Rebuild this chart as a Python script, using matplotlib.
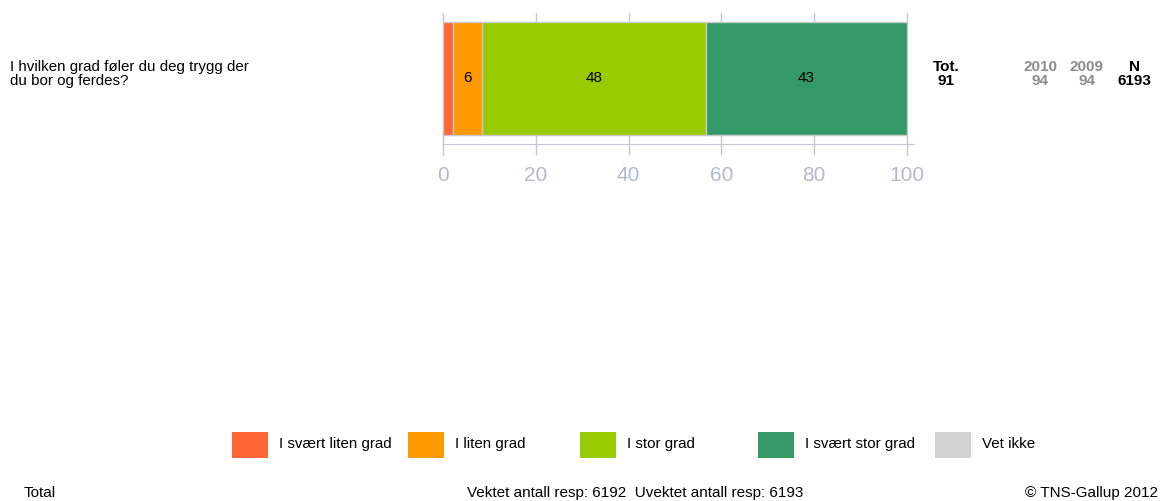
import numpy as np
import matplotlib.pyplot as plt
from matplotlib.patches import Rectangle

plt.rcParams['font.family'] = ['Liberation Sans', 'DejaVu Sans']

# Data
question = 'I hvilken grad føler du deg trygg der\ndu bor og ferdes?'
categories = ['I svært liten grad', 'I liten grad', 'I stor grad', 'I svært stor grad', 'Vet ikke']
values = [2.2, 6.2, 48.3, 43.3, 0.0]
colors = ['#FF6633', '#FF9900', '#99CC00', '#339966', '#D3D3D3']
tot_value = 91
years = ['2010', '2009']
year_values = [94, 94]
n_resp = 6193
footer_mid = 'Vektet antall resp: 6192  Uvektet antall resp: 6193'

W, H = 1162, 501
fig = plt.figure(figsize=(W / 100, H / 100), dpi=100)

# Bar axes
ax = fig.add_axes([443 / W, (H - 144) / H, 464 / W, 131 / H])
ax.set_xlim(0, 100)
ax.set_ylim(0, 1)
grid_col = '#C0C8D4'
ax.set_xticks(np.arange(0, 101, 20))
ax.set_yticks([])
ax.tick_params(axis='x', colors=grid_col, length=8, width=1, labelsize=15,
               labelcolor='#B0BCCC', pad=8)
for s in ['top', 'right']:
    ax.spines[s].set_visible(False)
ax.spines['left'].set_color(grid_col)
ax.spines['bottom'].set_color(grid_col)
ax.spines['bottom'].set_bounds(0, 101.5)
ax.spines['bottom'].set_clip_on(False)
for t in ax.get_xticks():
    ax.plot([t, t], [0, 1.0], color=grid_col, lw=1, clip_on=False, zorder=0)

left = 0
for v, c in zip(values, colors):
    if v > 0:
        ax.barh(0.5, v, left=left, height=0.87, color=c, edgecolor='#C8C8C8',
                linewidth=1, zorder=2)
        if v >= 5:
            ax.text(left + v / 2, 0.5, f'{round(v):.0f}', ha='center', va='center',
                    fontsize=11, color='black', zorder=3)
    left += v

# Question text
fig.text(10 / W, 1 - 74 / H, question, ha='left', va='center', fontsize=10.9,
         linespacing=1.05, color='black')

# Right side columns
def col(x, top, bottom, color, bold=True):
    w = 'bold' if bold else 'normal'
    fig.text(x / W, 1 - 67 / H, top, ha='center', va='center', fontsize=11,
             color=color, fontweight=w)
    fig.text(x / W, 1 - 81 / H, bottom, ha='center', va='center', fontsize=11,
             color=color, fontweight=w)

col(946, 'Tot.', str(tot_value), 'black')
col(1040, years[0], str(year_values[0]), '#8C8C8C')
col(1087, years[1], str(year_values[1]), '#8C8C8C')
col(1134, 'N', str(n_resp), 'black')

# Legend
sq_x = [232, 408, 580, 758, 935]
for x, c, lab in zip(sq_x, colors, categories):
    fig.patches.append(Rectangle((x / W, 1 - 458 / H), 36 / W, 26 / H,
                                 transform=fig.transFigure, facecolor=c,
                                 edgecolor='none'))
    fig.text((x + 47) / W, 1 - 444 / H, lab, ha='left', va='center',
             fontsize=10.9, color='black')

# Footer
fig.text(24 / W, 1 - 493 / H, 'Total', ha='left', va='center', fontsize=11)
fig.text(635 / W, 1 - 493 / H, footer_mid, ha='center', va='center', fontsize=11)
fig.text(1158 / W, 1 - 493 / H, '© TNS-Gallup 2012', ha='right', va='center', fontsize=11)

fig.savefig('out.png', dpi=100)
